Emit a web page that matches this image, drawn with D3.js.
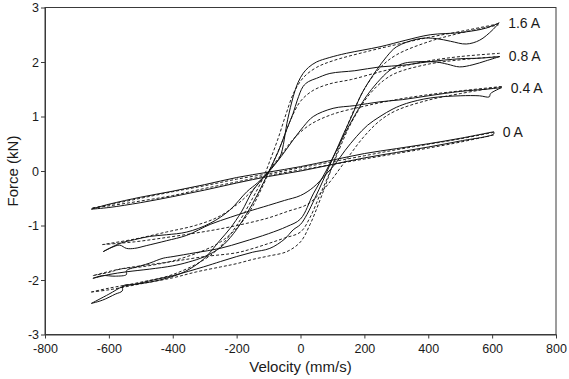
<!DOCTYPE html>
<html>
<head>
<meta charset="utf-8">
<script src="https://cdn.jsdelivr.net/npm/d3@7"></script>
<style>
  body { margin: 0; background: #fff; }
  text { font-family: "Liberation Sans", Arial, sans-serif; fill: #1a1a1a; }
</style>
</head>
<body>
<div id="chart"></div>
<script>
const xTicks = [-800, -600, -400, -200, 0, 200, 400, 600, 800]
const yTicks = [-3, -2, -1, 0, 1, 2, 3]
const currents = ['0 A', '0.4 A', '0.8 A', '1.6 A']

// loops as [velocity mm/s, force kN]: upper branch (right tip -> left tip), then lower branch back
const measured0 = [[605, 0.72], [500, 0.6], [400, 0.5], [300, 0.41], [200, 0.32], [100, 0.2], [0, 0.08], [-100, -0.02], [-200, -0.12], [-300, -0.25], [-400, -0.37], [-500, -0.48], [-600, -0.61], [-655, -0.7],
  [-600, -0.67], [-500, -0.58], [-400, -0.47], [-300, -0.35], [-200, -0.22], [-100, -0.1], [0, 0.0], [100, 0.12], [200, 0.24], [300, 0.34], [400, 0.44], [500, 0.55], [605, 0.68], [605, 0.72]]
const model0 = [[605, 0.71], [500, 0.59], [400, 0.49], [300, 0.39], [200, 0.28], [100, 0.17], [0, 0.06], [-100, -0.05], [-200, -0.15], [-300, -0.27], [-400, -0.38], [-500, -0.5], [-600, -0.62], [-652, -0.68],
  [-600, -0.64], [-500, -0.55], [-400, -0.45], [-300, -0.32], [-200, -0.2], [-100, -0.08], [0, 0.02], [100, 0.12], [200, 0.22], [300, 0.32], [400, 0.42], [500, 0.53], [605, 0.66]]

const measured04 = [[630, 1.53], [580, 1.5], [500, 1.46], [400, 1.38], [320, 1.31], [249, 1.27], [170, 1.2], [102, 1.15], [40, 1.0], [10, 0.82], [-23, 0.57], [-60, 0.27], [-100, -0.02], [-135, -0.22], [-168, -0.38], [-222, -0.72], [-283, -0.96], [-356, -1.12], [-420, -1.17], [-472, -1.2], [-520, -1.26], [-566, -1.33], [-618, -1.48],
  [-590, -1.4], [-566, -1.36], [-545, -1.42], [-520, -1.42], [-483, -1.37], [-420, -1.28], [-356, -1.18], [-283, -0.98], [-220, -0.85], [-168, -0.75], [-100, -0.63], [-50, -0.54], [0, -0.45], [40, -0.3], [80, -0.06], [110, 0.14], [140, 0.38], [175, 0.63], [210, 0.84], [249, 1.0], [290, 1.14], [332, 1.24], [406, 1.34], [500, 1.38], [560, 1.38], [591, 1.36], [595, 1.42], [630, 1.53]]
const model04 = [[630, 1.55], [500, 1.47], [400, 1.4], [300, 1.31], [200, 1.19], [100, 1.04], [30, 0.85], [-20, 0.6], [-60, 0.3], [-100, 0.0], [-150, -0.35], [-200, -0.62], [-260, -0.85], [-330, -1.0], [-420, -1.12], [-520, -1.25], [-620, -1.35],
  [-520, -1.3], [-420, -1.22], [-330, -1.14], [-250, -1.06], [-168, -0.96], [-100, -0.86], [-40, -0.74], [19, -0.62], [60, -0.42], [100, -0.14], [150, 0.26], [200, 0.64], [250, 0.93], [300, 1.11], [400, 1.3], [500, 1.42], [630, 1.55]]

const measured08 = [[624, 2.1], [560, 2.07], [500, 2.06], [395, 2.0], [320, 1.94], [249, 1.91], [170, 1.84], [92, 1.79], [50, 1.7], [25, 1.64], [8, 1.55], [-10, 1.3], [-23, 1.06], [-44, 0.75], [-70, 0.35], [-100, -0.02], [-130, -0.38], [-170, -0.8], [-210, -1.15], [-250, -1.4], [-300, -1.57], [-350, -1.67], [-400, -1.74], [-472, -1.8], [-545, -1.85], [-600, -1.9], [-650, -1.97],
  [-620, -1.92], [-580, -1.93], [-545, -1.9], [-545, -1.83], [-500, -1.74], [-472, -1.69], [-450, -1.64], [-430, -1.6], [-399, -1.57], [-330, -1.5], [-252, -1.42], [-180, -1.3], [-100, -1.15], [-43, -1.02], [0, -0.88], [40, -0.42], [80, 0.0], [110, 0.35], [140, 0.7], [170, 1.02], [205, 1.36], [240, 1.62], [280, 1.85], [320, 1.97], [352, 2.0], [425, 2.0], [460, 1.96], [498, 1.91], [540, 1.95], [580, 2.02], [624, 2.1]]
const model08 = [[624, 2.16], [500, 2.1], [400, 2.02], [320, 1.92], [249, 1.82], [160, 1.68], [92, 1.6], [40, 1.48], [0, 1.28], [-30, 0.95], [-60, 0.5], [-90, 0.1], [-120, -0.3], [-160, -0.75], [-200, -1.05], [-250, -1.3], [-300, -1.45], [-400, -1.65], [-500, -1.76], [-565, -1.8], [-650, -1.92],
  [-600, -1.86], [-565, -1.8], [-500, -1.74], [-400, -1.66], [-300, -1.57], [-200, -1.5], [-148, -1.42], [-100, -1.33], [-50, -1.23], [0, -1.12], [30, -0.85], [60, -0.45], [90, -0.05], [120, 0.38], [150, 0.78], [180, 1.1], [215, 1.4], [260, 1.66], [300, 1.8], [400, 1.96], [500, 2.04], [624, 2.1]]

const measured16 = [[622, 2.72], [580, 2.62], [500, 2.54], [406, 2.5], [330, 2.4], [249, 2.28], [144, 2.16], [90, 2.08], [50, 2.0], [25, 1.9], [8, 1.79], [-8, 1.62], [-23, 1.36], [-40, 0.95], [-64, 0.26], [-85, 0.1], [-105, -0.05], [-148, -0.35], [-185, -0.75], [-220, -1.05], [-252, -1.27], [-304, -1.62], [-360, -1.84], [-409, -1.95], [-472, -2.04], [-520, -2.08], [-556, -2.12], [-600, -2.26], [-655, -2.43],
  [-620, -2.37], [-580, -2.26], [-558, -2.2], [-556, -2.11], [-520, -2.08], [-461, -2.0], [-400, -1.92], [-304, -1.76], [-250, -1.66], [-200, -1.57], [-150, -1.49], [-96, -1.42], [-50, -1.25], [-23, -1.08], [0, -0.98], [20, -0.8], [45, -0.5], [71, -0.17], [91, 0.1], [110, 0.35], [130, 0.62], [160, 1.0], [190, 1.4], [215, 1.65], [238, 1.85], [270, 2.1], [301, 2.28], [374, 2.43], [425, 2.43], [470, 2.38], [519, 2.33], [561, 2.4], [600, 2.58], [622, 2.72]]
const model16 = [[620, 2.7], [500, 2.56], [400, 2.45], [300, 2.32], [200, 2.18], [100, 2.02], [50, 1.9], [10, 1.72], [-20, 1.45], [-45, 1.05], [-70, 0.6], [-95, 0.2], [-115, -0.1], [-150, -0.5], [-200, -1.0], [-250, -1.38], [-300, -1.62], [-400, -1.9], [-500, -2.04], [-600, -2.15], [-655, -2.22],
  [-600, -2.18], [-500, -2.07], [-400, -1.96], [-325, -1.85], [-250, -1.76], [-200, -1.7], [-148, -1.62], [-100, -1.56], [-43, -1.48], [0, -1.3], [30, -0.98], [60, -0.55], [90, -0.07], [120, 0.43], [150, 0.88], [180, 1.28], [210, 1.6], [250, 1.9], [300, 2.13], [400, 2.37], [500, 2.53], [620, 2.68]]

const margins = { top: 7.5, right: 13, bottom: 44.5, left: 45 }
const width = 569 - margins.left - margins.right
const height = 379 - margins.top - margins.bottom

const svg = d3.select('#chart')
  .append('svg')
  .attr('width', 569)
  .attr('height', 379)

const g = svg.append('g')
  .attr('transform', `translate(${margins.left}, ${margins.top})`)

const x = d3.scaleLinear([-800, 800], [0, width])
const y = d3.scaleLinear([-3, 3], [height, 0])

// frame round the plot
g.append('rect')
  .attr('width', width)
  .attr('height', height)
  .attr('fill', 'none')
  .attr('stroke', '#3a3a3a')
  .attr('stroke-width', 1)

const xAxis = g.append('g')
  .attr('transform', `translate(0, ${height})`)
  .call(d3.axisBottom(x).tickValues(xTicks).tickFormat(d => String(d)).tickSize(4).tickSizeOuter(0))
const yAxis = g.append('g')
  .call(d3.axisLeft(y).tickValues(yTicks).tickFormat(d => String(d)).tickSize(4).tickSizeOuter(0))

for (const axis of [xAxis, yAxis]) {
  axis.select('.domain').attr('stroke', '#3a3a3a')
  axis.selectAll('.tick line').attr('stroke', '#3a3a3a')
  axis.selectAll('.tick text')
    .style('font-family', '"Liberation Sans", Arial, sans-serif')
    .style('font-size', '12.5px')
    .attr('fill', '#1a1a1a')
}
xAxis.selectAll('.tick text').attr('dy', '0.95em')
yAxis.selectAll('.tick text').attr('x', -6)

const line = d3.line()
  .x(d => x(d[0]))
  .y(d => y(d[1]))
  .curve(d3.curveCatmullRom.alpha(0.5))

const series = [
  { label: currents[0], measured: measured0, model: model0 },
  { label: currents[1], measured: measured04, model: model04 },
  { label: currents[2], measured: measured08, model: model08 },
  { label: currents[3], measured: measured16, model: model16 }
]

// split a loop at its leftmost point so the spline doesn't overshoot at the turn
function branches (loop) {
  const i = d3.minIndex(loop, d => d[0])
  return [loop.slice(0, i + 1), loop.slice(i)]
}

const plot = g.append('g')

series.forEach(s => {
  branches(s.model).forEach(b => {
    plot.append('path')
      .datum(b)
      .attr('fill', 'none')
      .attr('stroke', '#222')
      .attr('stroke-width', 1)
      .attr('stroke-dasharray', '3,2')
      .attr('d', line)
  })

  branches(s.measured).forEach(b => {
    plot.append('path')
      .datum(b)
      .attr('fill', 'none')
      .attr('stroke', '#111')
      .attr('stroke-width', 1)
      .attr('d', line)
  })

  const tip = s.measured[0]
  g.append('text')
    .attr('x', x(tip[0]) + 9)
    .attr('y', y(tip[1]))
    .attr('dy', '0.35em')
    .style('font-size', '14px')
    .text(s.label)
})

svg.append('text')
  .attr('x', margins.left + width / 2)
  .attr('y', 372)
  .attr('text-anchor', 'middle')
  .style('font-size', '15px')
  .text('Velocity (mm/s)')

svg.append('text')
  .attr('transform', `translate(18, ${margins.top + height / 2}) rotate(-90)`)
  .attr('text-anchor', 'middle')
  .style('font-size', '15px')
  .text('Force (kN)')
</script>
</body>
</html>
